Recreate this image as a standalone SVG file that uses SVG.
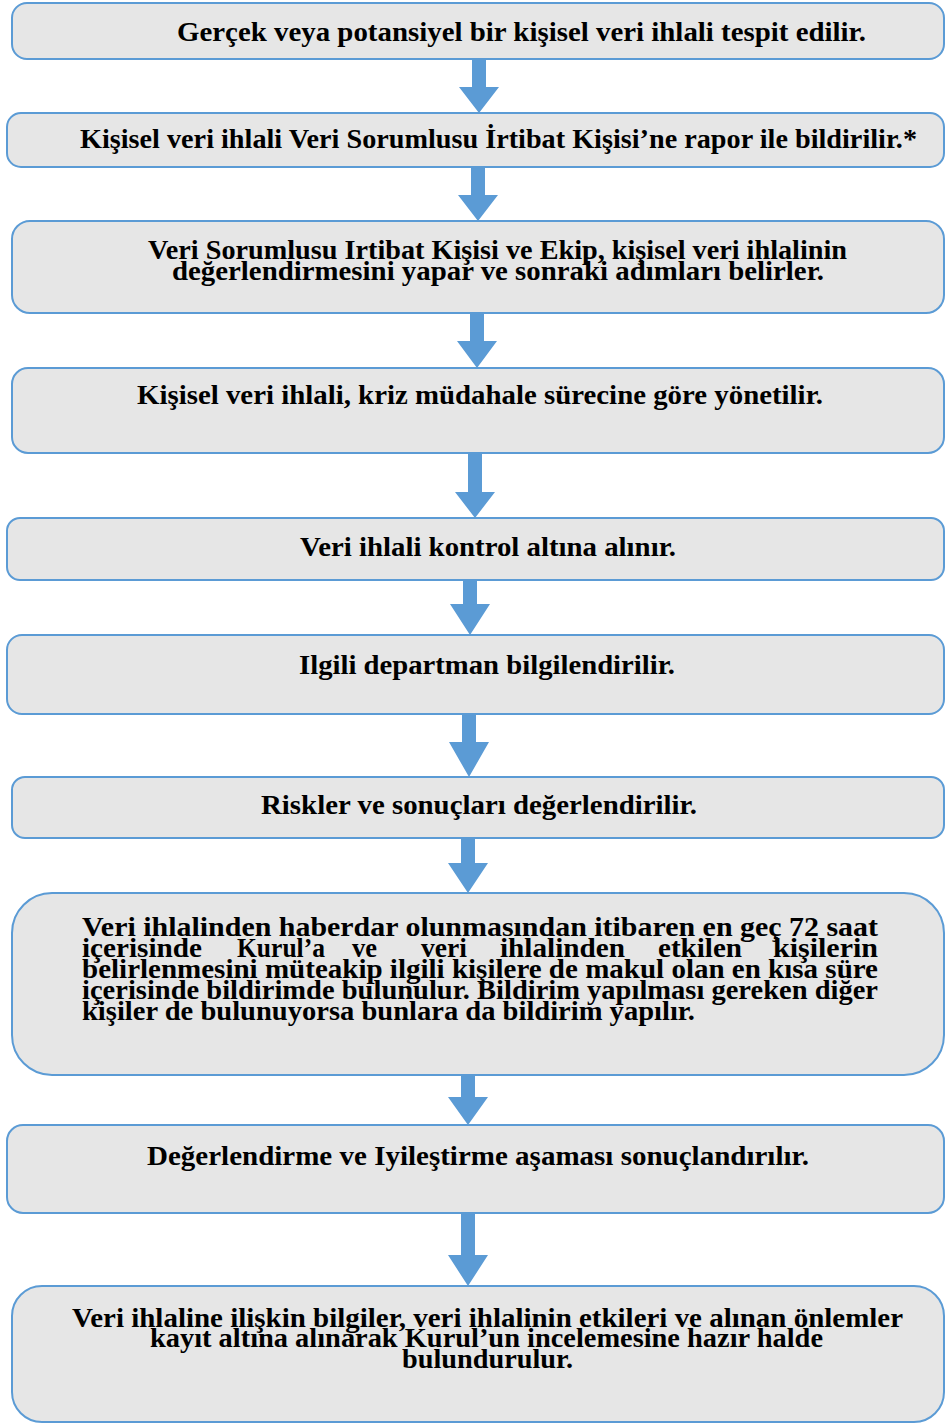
<svg xmlns="http://www.w3.org/2000/svg" width="945" height="1425" viewBox="0 0 945 1425">
<style>
.box{fill:#e6e6e6;stroke:#5b9bd5;stroke-width:2}
.arr{fill:#5b9bd5}
text{font-family:"Liberation Serif","Times New Roman",serif;font-weight:bold;font-size:27px;fill:#000}
</style>
<rect width="945" height="1425" fill="#fff"/>
<g id="connectors">
<polygon class="arr" points="472,59 486,59 486,87 499,87 479,113 459,87 472,87"/>
<polygon class="arr" points="471,167 485,167 485,195 498,195 478,221 458,195 471,195"/>
<polygon class="arr" points="470,313 484,313 484,341 497,341 477,368 457,341 470,341"/>
<polygon class="arr" points="468,453 482,453 482,492 495,492 475,518 455,492 468,492"/>
<polygon class="arr" points="463,580 477,580 477,604 490,604 470,635 450,604 463,604"/>
<polygon class="arr" points="462,714 476,714 476,742 489,742 469,777 449,742 462,742"/>
<polygon class="arr" points="461,838 475,838 475,863 488,863 468,893 448,863 461,863"/>
<polygon class="arr" points="461,1075 475,1075 475,1097 488,1097 468,1125 448,1097 461,1097"/>
<polygon class="arr" points="461,1213 475,1213 475,1255 488,1255 468,1286 448,1255 461,1255"/>
</g>
<g id="n1">
<rect class="box" x="12" y="3" width="932" height="56" rx="15"/>
<text x="177" y="41" textLength="689" lengthAdjust="spacingAndGlyphs">Gerçek veya potansiyel bir kişisel veri ihlali tespit edilir.</text>
</g>
<g id="n2">
<rect class="box" x="7" y="113" width="937" height="54" rx="14"/>
<text x="80" y="148" textLength="837" lengthAdjust="spacingAndGlyphs">Kişisel veri ihlali Veri Sorumlusu İrtibat Kişisi’ne rapor ile bildirilir.*</text>
</g>
<g id="n3">
<rect class="box" x="12" y="221" width="932" height="92" rx="18"/>
<text x="148" y="259" textLength="699" lengthAdjust="spacingAndGlyphs">Veri Sorumlusu Irtibat Kişisi ve Ekip, kişisel veri ihlalinin</text>
<text x="172" y="280" textLength="652" lengthAdjust="spacingAndGlyphs">değerlendirmesini yapar ve sonraki adımları belirler.</text>
</g>
<g id="n4">
<rect class="box" x="12" y="368" width="932" height="85" rx="16"/>
<text x="137" y="404" textLength="686" lengthAdjust="spacingAndGlyphs">Kişisel veri ihlali, kriz müdahale sürecine göre yönetilir.</text>
</g>
<g id="n5">
<rect class="box" x="7" y="518" width="937" height="62" rx="13"/>
<text x="300" y="556" textLength="376" lengthAdjust="spacingAndGlyphs">Veri ihlali kontrol altına alınır.</text>
</g>
<g id="n6">
<rect class="box" x="7" y="635" width="937" height="79" rx="15"/>
<text x="299" y="674" textLength="376" lengthAdjust="spacingAndGlyphs">Ilgili departman bilgilendirilir.</text>
</g>
<g id="n7">
<rect class="box" x="12" y="777" width="932" height="61" rx="13"/>
<text x="261" y="814" textLength="436" lengthAdjust="spacingAndGlyphs">Riskler ve sonuçları değerlendirilir.</text>
</g>
<g id="n8">
<rect class="box" x="12" y="893" width="932" height="182" rx="40"/>
<text x="82" y="936" textLength="796" lengthAdjust="spacingAndGlyphs">Veri ihlalinden haberdar olunmasından itibaren en geç 72 saat</text>
<text x="82" y="957" textLength="120" lengthAdjust="spacingAndGlyphs">içerisinde</text>
<text x="237" y="957" textLength="88" lengthAdjust="spacingAndGlyphs">Kurul’a</text>
<text x="352" y="957" textLength="25" lengthAdjust="spacingAndGlyphs">ve</text>
<text x="421" y="957" textLength="46" lengthAdjust="spacingAndGlyphs">veri</text>
<text x="500" y="957" textLength="125" lengthAdjust="spacingAndGlyphs">ihlalinden</text>
<text x="658" y="957" textLength="84" lengthAdjust="spacingAndGlyphs">etkilen</text>
<text x="773" y="957" textLength="105" lengthAdjust="spacingAndGlyphs">kişilerin</text>
<text x="82" y="978" textLength="796" lengthAdjust="spacingAndGlyphs">belirlenmesini müteakip ilgili kişilere de makul olan en kısa süre</text>
<text x="82" y="999" textLength="796" lengthAdjust="spacingAndGlyphs">içerisinde bildirimde bulunulur. Bildirim yapılması gereken diğer</text>
<text x="82" y="1020" textLength="613" lengthAdjust="spacingAndGlyphs">kişiler de bulunuyorsa bunlara da bildirim yapılır.</text>
</g>
<g id="n9">
<rect class="box" x="7" y="1125" width="937" height="88" rx="16"/>
<text x="147" y="1165" textLength="662" lengthAdjust="spacingAndGlyphs">Değerlendirme ve Iyileştirme aşaması sonuçlandırılır.</text>
</g>
<g id="n10">
<rect class="box" x="12" y="1286" width="932" height="136" rx="30"/>
<text x="72" y="1327" textLength="831" lengthAdjust="spacingAndGlyphs">Veri ihlaline ilişkin bilgiler, veri ihlalinin etkileri ve alınan önlemler</text>
<text x="150" y="1347" textLength="673" lengthAdjust="spacingAndGlyphs">kayıt altına alınarak Kurul’un incelemesine hazır halde</text>
<text x="402" y="1368" textLength="171" lengthAdjust="spacingAndGlyphs">bulundurulur.</text>
</g>
</svg>
